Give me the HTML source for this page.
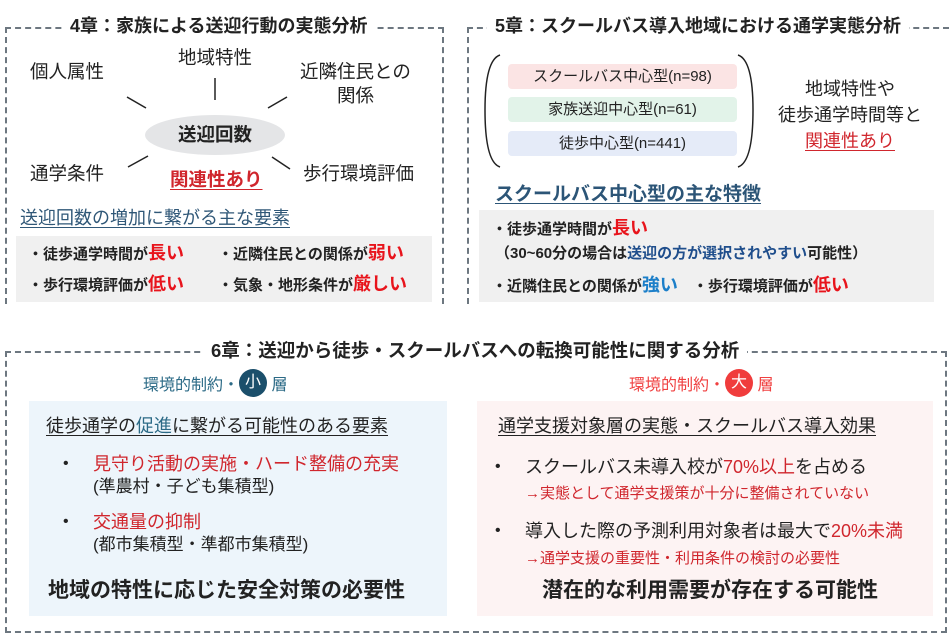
<!DOCTYPE html>
<html><head><meta charset="utf-8"><style>
body{margin:0;width:950px;height:633px;background:#fff;position:relative;overflow:hidden;font-family:"Liberation Sans","Noto Sans CJK JP",sans-serif;color:#222}
.a{position:absolute;white-space:nowrap;line-height:1}
.box{position:absolute;border:2px dashed #6d7780}
.tt{position:absolute;background:#fff;padding:0 8px;font-weight:bold;font-size:18px;line-height:1;white-space:nowrap}
.r{color:#e8141c;font-weight:bold;font-size:18px}
.u{text-decoration:underline;text-underline-offset:3px}
</style></head><body>
<!-- Box 1 -->
<div class="box" style="left:5px;top:27px;width:435px;height:275px;border-bottom:none"></div>
<div class="tt" style="left:62px;top:17px">4章：家族による送迎行動の実態分析</div>
<div class="a" style="left:30px;top:63px;font-size:18.5px">個人属性</div>
<div class="a" style="left:178px;top:49px;font-size:18.5px">地域特性</div>
<div class="a" style="left:300px;top:63px;font-size:18.5px">近隣住民との</div>
<div class="a" style="left:337px;top:87px;font-size:18.5px">関係</div>
<svg class="a" style="left:0;top:0" width="450" height="200">
<g stroke="#222" stroke-width="1.5">
<line x1="127" y1="97" x2="146" y2="108"/><line x1="215" y1="78" x2="215" y2="100"/><line x1="268" y1="108" x2="287" y2="97"/>
<line x1="128" y1="167" x2="148" y2="156"/><line x1="272" y1="157" x2="290" y2="169"/></g>
<ellipse cx="215" cy="135" rx="70" ry="20" fill="#e4e5e7"/>
</svg>
<div class="a" style="left:178px;top:126px;font-size:18.5px;font-weight:bold">送迎回数</div>
<div class="a" style="left:30px;top:165px;font-size:18.5px">通学条件</div>
<div class="a" style="left:303px;top:165px;font-size:18.5px">歩行環境評価</div>
<div class="a u" style="left:170px;top:171px;font-size:18.5px;font-weight:bold;color:#d0262d">関連性あり</div>
<div class="a u" style="left:20px;top:209px;font-size:18px;color:#2f5777">送迎回数の増加に繋がる主な要素</div>
<div class="a" style="left:16px;top:236px;width:416px;height:66px;background:#f0f0f0"></div>
<div class="a" style="left:28px;top:244px;font-size:15px;font-weight:bold">・徒歩通学時間が<span class="r">長い</span></div>
<div class="a" style="left:218px;top:244px;font-size:15px;font-weight:bold">・近隣住民との関係が<span class="r">弱い</span></div>
<div class="a" style="left:28px;top:275px;font-size:15px;font-weight:bold">・歩行環境評価が<span class="r">低い</span></div>
<div class="a" style="left:218px;top:275px;font-size:15px;font-weight:bold">・気象・地形条件が<span class="r">厳しい</span></div>
<!-- Box 2 -->
<div class="box" style="left:467px;top:27px;width:480px;height:275px;border-bottom:none;border-right:none"></div>
<div class="tt" style="left:487px;top:17px">5章：スクールバス導入地域における通学実態分析</div>
<svg class="a" style="left:480px;top:50px" width="285" height="125" fill="none" stroke="#222" stroke-width="1.5">
<path d="M20 5 Q5 10 5 60 Q5 112 20 117"/><path d="M258 5 Q273 10 273 60 Q273 112 258 117"/>
</svg>
<div class="a" style="left:508px;top:64px;width:229px;height:25px;background:#fbe4e4;border-radius:4px;font-size:15px;line-height:25px;text-align:center">スクールバス中心型(n=98)</div>
<div class="a" style="left:508px;top:97px;width:229px;height:25px;background:#e2f3e9;border-radius:4px;font-size:15px;line-height:25px;text-align:center">家族送迎中心型(n=61)</div>
<div class="a" style="left:508px;top:131px;width:229px;height:25px;background:#e5ebf8;border-radius:4px;font-size:15px;line-height:25px;text-align:center">徒歩中心型(n=441)</div>
<div class="a" style="left:765px;top:76px;width:170px;text-align:center;font-size:18px;line-height:26px">地域特性や<br>徒歩通学時間等と<br><span class="u" style="color:#d0262d">関連性あり</span></div>
<div class="a u" style="left:495px;top:185px;font-size:19px;font-weight:bold;color:#2c5577">スクールバス中心型の主な特徴</div>
<div class="a" style="left:479px;top:210px;width:455px;height:92px;background:#f0f0f0"></div>
<div class="a" style="left:492px;top:219px;font-size:15px;font-weight:bold">・徒歩通学時間が<span class="r">長い</span></div>
<div class="a" style="left:495px;top:246px;font-size:15px;font-weight:bold">（30~60分の場合は<span style="color:#1f4e8c">送迎の方が選択されやすい</span>可能性）</div>
<div class="a" style="left:492px;top:276px;font-size:15px;font-weight:bold">・近隣住民との関係が<span class="r" style="color:#1c7fc9">強い</span>　・歩行環境評価が<span class="r">低い</span></div>
<!-- Box 3 -->
<div class="box" style="left:5px;top:351px;width:938px;height:278px"></div>
<div class="tt" style="left:203px;top:342px;font-size:18.5px">6章：送迎から徒歩・スクールバスへの転換可能性に関する分析</div>
<div class="a" style="left:143px;top:375px;font-size:16px;color:#2b6a86">環境的制約・<span style="display:inline-block;width:28px;height:28px;border-radius:50%;background:#1b4f6b;color:#fff;text-align:center;line-height:28px;vertical-align:middle;margin-top:-6px">小</span> 層</div>
<div class="a" style="left:629px;top:375px;font-size:16px;color:#f04040">環境的制約・<span style="display:inline-block;width:28px;height:28px;border-radius:50%;background:#f03c3c;color:#fff;text-align:center;line-height:28px;vertical-align:middle;margin-top:-6px">大</span> 層</div>
<div class="a" style="left:29px;top:401px;width:418px;height:215px;background:#edf5fb"></div>
<div class="a" style="left:477px;top:401px;width:456px;height:215px;background:#fdf3f3"></div>
<div class="a u" style="left:46px;top:417px;font-size:18px">徒歩通学の<span style="color:#2b6a86">促進</span>に繋がる可能性のある要素</div>
<div class="a" style="left:63px;top:456px;font-size:16px">•</div>
<div class="a" style="left:93px;top:455px;font-size:18px;color:#d0262d">見守り活動の実施・ハード整備の充実</div>
<div class="a" style="left:93px;top:478px;font-size:17px">(準農村・子ども集積型)</div>
<div class="a" style="left:63px;top:514px;font-size:16px">•</div>
<div class="a" style="left:93px;top:513px;font-size:18px;color:#d0262d">交通量の抑制</div>
<div class="a" style="left:93px;top:536px;font-size:17px">(都市集積型・準都市集積型)</div>
<div class="a" style="left:48px;top:580px;font-size:21px;font-weight:bold">地域の特性に応じた安全対策の必要性</div>
<div class="a u" style="left:498px;top:417px;font-size:18px">通学支援対象層の実態・スクールバス導入効果</div>
<div class="a" style="left:495px;top:459px;font-size:16px">•</div>
<div class="a" style="left:525px;top:458px;font-size:18px">スクールバス未導入校が<span style="color:#d0262d">70%以上</span>を占める</div>
<div class="a" style="left:525px;top:486px;font-size:15px;color:#d0262d">→実態として通学支援策が十分に整備されていない</div>
<div class="a" style="left:495px;top:523px;font-size:16px">•</div>
<div class="a" style="left:525px;top:522px;font-size:18px">導入した際の予測利用対象者は最大で<span style="color:#d0262d">20%未満</span></div>
<div class="a" style="left:525px;top:551px;font-size:15px;color:#d0262d">→通学支援の重要性・利用条件の検討の必要性</div>
<div class="a" style="left:542px;top:580px;font-size:21px;font-weight:bold">潜在的な利用需要が存在する可能性</div>
</body></html>
